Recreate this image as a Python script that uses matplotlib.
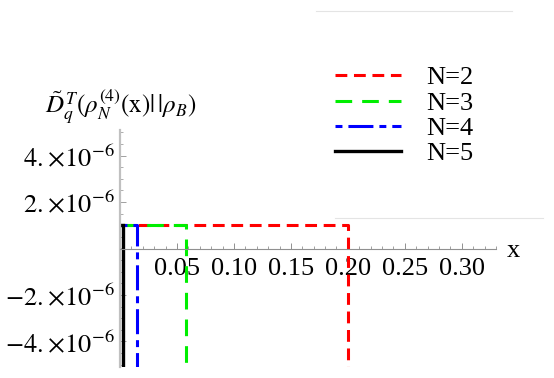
import numpy as np
import matplotlib
matplotlib.use("Agg")
import matplotlib.pyplot as plt
from matplotlib.lines import Line2D

# data
labels = ["N=2", "N=3", "N=4", "N=5"]
cutoffs = [0.2, 0.058, 0.015, 0.003]   # x where each curve drops off
level = 1.03e-6                        # plateau value
drop = -1e-5                           # below the plot window
colors = ["#ff0000", "#00ee00", "#0000ff", "#000000"]
dashes = [(8.5, 4.8), (12, 7.2), (5, 4.3, 18, 4.3), None]

xticks = [0.05, 0.10, 0.15, 0.20, 0.25, 0.30]
yticks = [-4e-6, -2e-6, 2e-6, 4e-6]
ytick_labels = [r"$-4.\!\times\!10^{-6}$", r"$-2.\!\times\!10^{-6}$",
                r"$2.\!\times\!10^{-6}$", r"$4.\!\times\!10^{-6}$"]

plt.rcParams["mathtext.fontset"] = "stix"
plt.rcParams["font.family"] = ["Liberation Serif", "DejaVu Serif"]
plt.rcParams["lines.scale_dashes"] = False

W, H = 554, 378
fig = plt.figure(figsize=(W / 100, H / 100), dpi=100)
# axes box: x=0 at px 120, x=0.33 at px 496; y=+-5.1e-6 at px 130 / 367
ax = fig.add_axes([120 / W, (H - 367) / H, 376 / W, 237 / H])
ax.set_xlim(0, 0.33)
ax.set_ylim(-5.1e-6, 5.1e-6)

for xc, c, d, lab in zip(cutoffs, colors, dashes, labels):
    xs = [0, xc, xc]
    ys = [level, level, drop]
    if d is None:
        ax.plot(xs, ys, color=c, lw=2.4, label=lab, solid_joinstyle="miter")
    else:
        ax.plot(xs, ys, color=c, lw=2.2, dashes=d, label=lab)

for s in ["top", "right"]:
    ax.spines[s].set_visible(False)
ax.spines["left"].set_position(("data", 0))
ax.spines["bottom"].set_position(("data", 0))
ax.spines["left"].set_color("#c0c0c0")
ax.spines["left"].set_linewidth(1.6)
ax.spines["bottom"].set_color("#909090")
ax.spines["bottom"].set_linewidth(0.8)

ax.set_xticks(xticks)
ax.set_xticklabels(["%.2f" % v for v in xticks])
ax.set_xticks(np.arange(0.01, 0.331, 0.01), minor=True)
ax.set_yticks(yticks)
ax.set_yticklabels(ytick_labels)
ax.set_yticks(np.arange(-5e-6, 5.01e-6, 0.5e-6), minor=True)

ax.tick_params(axis="x", which="major", direction="in", length=4, width=0.7,
               color="#909090", labelsize=19, pad=7)
ax.tick_params(axis="x", which="minor", direction="in", length=2.5, width=0.6,
               color="#909090")
ax.tick_params(axis="y", which="major", direction="in", length=4, width=0.7,
               color="#a0a0a0", labelsize=19, pad=4)
ax.tick_params(axis="y", which="minor", direction="in", length=2.5, width=0.6,
               color="#a0a0a0")
ax.patch.set_alpha(0)

fig.text(45 / W, 1 - 107 / H,
         r"$\tilde{D}_q^{\,T}(\rho_N^{(4)}(\mathrm{x})|\,|\rho_B)$",
         fontsize=18, ha="left", va="center")
fig.text(513 / W, 1 - 251 / H, "x", fontsize=19, ha="center", va="center")

ax.legend(loc="upper left", bbox_to_anchor=(335 / W, 1 - 66 / H),
          bbox_transform=fig.transFigure, frameon=False, fontsize=19,
          handlelength=2.5, handletextpad=0.95, labelspacing=0.07,
          borderpad=0, borderaxespad=0)

# faint stray rules present in the original export
fig.add_artist(Line2D([316 / W, 512 / W], [1 - 11 / H, 1 - 11 / H],
                      color="#e4e4e4", lw=0.8))
fig.add_artist(Line2D([335 / W, 543 / W], [1 - 218 / H, 1 - 218 / H],
                      color="#e4e4e4", lw=0.8))

fig.savefig("out.png", dpi=100)
